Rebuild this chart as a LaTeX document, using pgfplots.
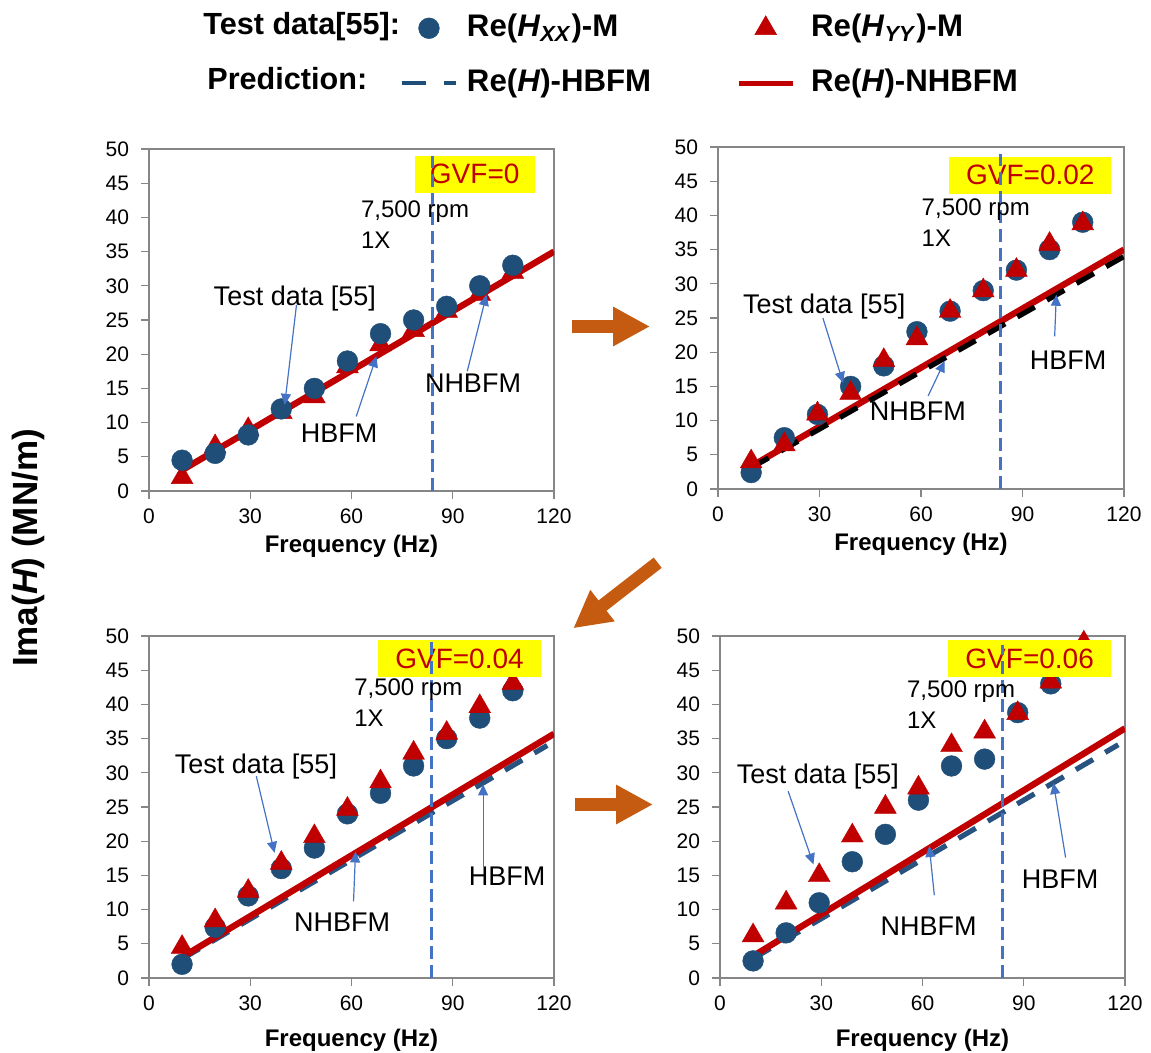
\documentclass[border=0pt]{standalone}
\usepackage{fontspec}
\setmainfont{Liberation Sans}
\usepackage{pgfplots}
\pgfplotsset{compat=1.18}
\usetikzlibrary{arrows.meta}
\definecolor{cblue}{RGB}{31,78,121}
\definecolor{cred}{RGB}{192,0,0}
\definecolor{vblue}{RGB}{68,114,196}
\definecolor{corange}{RGB}{197,90,17}
\definecolor{axgray}{RGB}{134,134,134}
\definecolor{hbblue}{RGB}{40,82,128}
\definecolor{gvfyellow}{RGB}{255,255,0}
\pgfplotsset{
 panel/.style={
  scale only axis, width=202.5pt, height=171pt, anchor=north west,
  xmin=0,xmax=120,ymin=0,ymax=50,
  xtick={0,30,60,90,120}, ytick={0,5,...,50},
  axis line style={axgray, line width=0.6pt},
  tick style={axgray, line width=0.6pt},
  tick align=outside, major tick length=3.8pt, tick pos=left,
  tick label style={font=\fontsize{10.5}{12}\selectfont, black},
  /pgf/number format/assume math mode=true,
  yticklabel style={inner sep=0pt, xshift=-6pt},
  xticklabel style={inner sep=0pt, yshift=-5pt},
  xlabel={Frequency (Hz)},
  xlabel style={font=\fontsize{12}{14}\selectfont\bfseries, at={(axis description cs:0.5,0)}, anchor=base, yshift=-31pt},
  clip mode=individual,
 },
 hxx/.style={only marks, mark=*, mark size=5.2pt, mark options={fill=cblue, draw=cblue, line width=0.2pt}},
 hyy/.style={only marks, mark=triangle*, mark size=6.3pt, mark options={fill=cred, draw=cred, line width=0.2pt}},
 nh/.style={no marks, cred, line width=3.2pt},
 hb/.style={no marks, hbblue, line width=2.6pt, dash pattern=on 10pt off 7pt},
 hbk/.style={no marks, black, line width=2.6pt, dash pattern=on 10pt off 7pt},
}
\tikzset{
 vline/.style={vblue, line width=1.5pt, dash pattern=on 6.5pt off 3pt},
 callout/.style={vblue, line width=0.6pt, -{Triangle[length=5.5pt,width=5pt]}},
 annot/.style={inner sep=0pt, font=\fontsize{13.5}{16}\selectfont},
 rpm/.style={inner sep=0pt, anchor=west, font=\fontsize{12}{14}\selectfont},
 gvf/.style={inner sep=0pt, text=cred, font=\fontsize{14}{16}\selectfont},
}
\begin{document}
\begin{tikzpicture}
% ---------- legend (hidden axis spanning the whole picture) ----------
\begin{axis}[hide axis, scale only axis, width=575.5pt, height=526.5pt,
  at={(0pt,0pt)}, anchor=north west, xmin=0, xmax=1, ymin=0, ymax=1,
  legend columns=2, legend cell align=left,
  legend image code/.code={\draw[mark repeat=2,mark phase=2] plot coordinates {(0pt,0pt)(13.5pt,0pt)(27pt,0pt)};},
  legend style={draw=none, fill=none, inner sep=0pt, outer sep=0pt,
    at={(0.3475,0.9868)}, anchor=north west,
    font=\fontsize{15.6}{18}\selectfont\bfseries,
    nodes={inner sep=0pt, text height=11.4pt, text depth=3pt},
    row sep=13pt,
    /tikz/column 1/.style={column sep=4.5pt},
    /tikz/column 2/.style={column sep=42.5pt},
    /tikz/column 3/.style={column sep=8pt}},
 ]
 \addlegendimage{hxx}
 \addlegendentry{Re(\textit{H}\textsubscript{\textit{XX}})-M}
 \addlegendimage{hyy}
 \addlegendentry{Re(\textit{H}\textsubscript{\textit{YY}})-M}
 \addlegendimage{no marks, cblue, line width=2pt, dash pattern=on 12pt off 9pt}
 \addlegendentry{Re(\textit{H})-HBFM}
 \addlegendimage{no marks, cred, line width=2.5pt}
 \addlegendentry{Re(\textit{H})-NHBFM}
\end{axis}

% ---------- panel 1: GVF = 0 ----------
\begin{axis}[panel, at={(74.5pt,-74.5pt)}]
 \addplot[hyy] coordinates {(9.8,2) (19.6,6.5) (29.4,9) (39.2,11.5) (49,13.8) (58.8,18.2) (68.6,21.4) (78.4,23.5) (88.2,26.3) (98,28.8) (107.8,32)};
 \addplot[hb] coordinates {(9.8,3.05) (120,35)};
 \addplot[nh] coordinates {(9.8,3.05) (120,35)};
 \addplot[hxx] coordinates {(9.8,4.5) (19.6,5.5) (29.4,8.2) (39.2,12) (49,15) (58.8,19) (68.6,23) (78.4,25) (88.2,27) (98,30) (107.8,33)};
 \fill[gvfyellow] (78.7,43.6) rectangle (114.3,49);
 \node[gvf] at (96.5,46.3) {GVF=0};
 \draw[vline] (84,0) -- (84,49);
 \node[rpm] at (62.7,40.9) {7,500 rpm};
 \node[rpm] at (62.7,36.7) {1X};
 \node[annot] at (43.2,28.2) {Test data [55]};
 \draw[callout] (43.7,27.2) -- (40.2,12.6);
 \node[annot] at (56.3,8.4) {HBFM};
 \draw[callout] (61.4,10.9) -- (67.4,19.7);
 \node[annot] at (96,15.7) {NHBFM};
 \draw[callout] (94.3,17.5) -- (100,28.7);
\end{axis}

% ---------- panel 2: GVF = 0.02 ----------
\begin{axis}[panel, at={(359pt,-73.5pt)}, width=203pt]
 \addplot[nh] coordinates {(9.8,3.3) (120,35)};
 \addplot[hbk] coordinates {(9.8,3.1) (120,34)};
 \addplot[hxx] coordinates {(9.8,2.4) (19.6,7.5) (29.4,10.9) (39.2,15) (49,18) (58.8,23) (68.6,26) (78.4,29) (88.2,32) (98,35) (107.8,39)};
 \addplot[hyy] coordinates {(9.8,4) (19.6,6.5) (29.4,11) (39.2,14) (49,18.8) (58.8,22) (68.6,26) (78.4,29) (88.2,32) (98,35.8) (107.8,38.8)};
 \fill[gvfyellow] (68.3,43.2) rectangle (116.3,48.6);
 \node[gvf] at (92.3,45.9) {GVF=0.02};
 \draw[vline] (83.5,0) -- (83.5,49);
 \node[rpm] at (60.1,40.8) {7,500 rpm};
 \node[rpm] at (60.1,36.7) {1X};
 \node[annot] at (31.4,26.7) {Test data [55]};
 \draw[callout] (31,25) -- (37,15.5);
 \node[annot] at (59.1,11.4) {NHBFM};
 \draw[callout] (62.1,13.6) -- (67,18.7);
 \node[annot] at (103.5,18.9) {HBFM};
 \draw[callout] (99.5,22.3) -- (100,28.4);
\end{axis}

% ---------- panel 3: GVF = 0.04 ----------
\begin{axis}[panel, at={(74.5pt,-318pt)}, xlabel style={yshift=-3pt}]
 \addplot[hb] coordinates {(9.8,2.8) (118,34)};
 \addplot[nh] coordinates {(9.8,3.05) (120,35.7)};
 \addplot[hxx] coordinates {(9.8,2) (19.6,7.4) (29.4,12) (39.2,16) (49,19) (58.8,24) (68.6,27) (78.4,31) (88.2,35) (98,38) (107.8,42)};
 \addplot[hyy] coordinates {(9.8,4.5) (19.6,8.4) (29.4,12.7) (39.2,16.8) (49,20.7) (58.8,24.7) (68.6,28.7) (78.4,32.9) (88.2,35.8) (98,39.7) (107.8,43.1)};
 \fill[gvfyellow] (67.9,44) rectangle (116,49.4);
 \node[gvf] at (92,46.7) {GVF=0.04};
 \draw[vline] (83.7,0) -- (83.7,49.4);
 \node[rpm] at (60.7,42.1) {7,500 rpm};
 \node[rpm] at (60.7,38) {1X};
 \node[annot] at (31.7,30.9) {Test data [55]};
 \draw[callout] (31.8,29.5) -- (37.2,18.3);
 \node[annot] at (57.2,8.1) {NHBFM};
 \draw[callout] (60.6,11.2) -- (61.2,18.5);
 \node[annot] at (106.1,14.9) {HBFM};
 \draw[callout] (99,16.3) -- (99,28.3);
\end{axis}

% ---------- panel 4: GVF = 0.06 ----------
\begin{axis}[panel, at={(360pt,-318pt)}, xlabel style={yshift=-3pt}]
 \addplot[hb] coordinates {(9.8,2.84) (118,34.1)};
 \addplot[nh] coordinates {(9.8,3.2) (120,36.5)};
 \addplot[hxx] coordinates {(9.8,2.5) (19.6,6.6) (29.4,11) (39.2,17) (49,21) (58.8,26) (68.6,31) (78.4,32) (88.2,38.8) (98,43) (107.8,47)};
 \addplot[hyy] coordinates {(9.8,6.2) (19.6,11) (29.4,15) (39.2,20.8) (49,25) (58.8,27.8) (68.6,34) (78.4,36) (88.2,38.7) (98,43.3) (107.8,49)};
 \fill[gvfyellow] (67.7,44) rectangle (115.8,49.4);
 \node[gvf] at (91.75,46.7) {GVF=0.06};
 \draw[vline] (83.7,0) -- (83.7,48.7);
 \node[rpm] at (55.3,41.9) {7,500 rpm};
 \node[rpm] at (55.3,37.7) {1X};
 \node[annot] at (29,29.5) {Test data [55]};
 \draw[callout] (20.2,27.3) -- (27.7,16.6);
 \node[annot] at (61.8,7.6) {NHBFM};
 \draw[callout] (63.5,12.1) -- (62,19.3);
 \node[annot] at (100.8,14.4) {HBFM};
 \draw[callout] (102.4,17.6) -- (98.8,28.5);
\end{axis}

% ---------- decorations in pixel coordinates ----------
\begin{scope}[x=0.5pt, y=-0.5pt]
 \node[anchor=base west, inner sep=0pt, font=\fontsize{15.3}{18}\selectfont\bfseries] at (203,35) {Test data[55]:};
 \node[anchor=base west, inner sep=0pt, font=\fontsize{15.3}{18}\selectfont\bfseries] at (207,90) {Prediction:};
 \node[rotate=90, inner sep=0pt, font=\fontsize{17.5}{20}\selectfont\bfseries] at (28,548) {Ima(\textit{H}) (MN/m)};
 \draw[corange, line width=6.5pt, -{Triangle[length=18.5pt,width=18.5pt]}] (572,326.5) -- (650,326.5);
 \draw[corange, line width=6.5pt, -{Triangle[length=18.5pt,width=18.5pt]}] (575,804.5) -- (653,804.5);
 \draw[corange, line width=6.5pt, -{Triangle[length=18.5pt,width=18.5pt]}] (657.7,562.7) -- (573.3,628.3);
 \pgfresetboundingbox
 \useasboundingbox (0,0) rectangle (1151,1053);
\end{scope}
\end{tikzpicture}
\end{document}
